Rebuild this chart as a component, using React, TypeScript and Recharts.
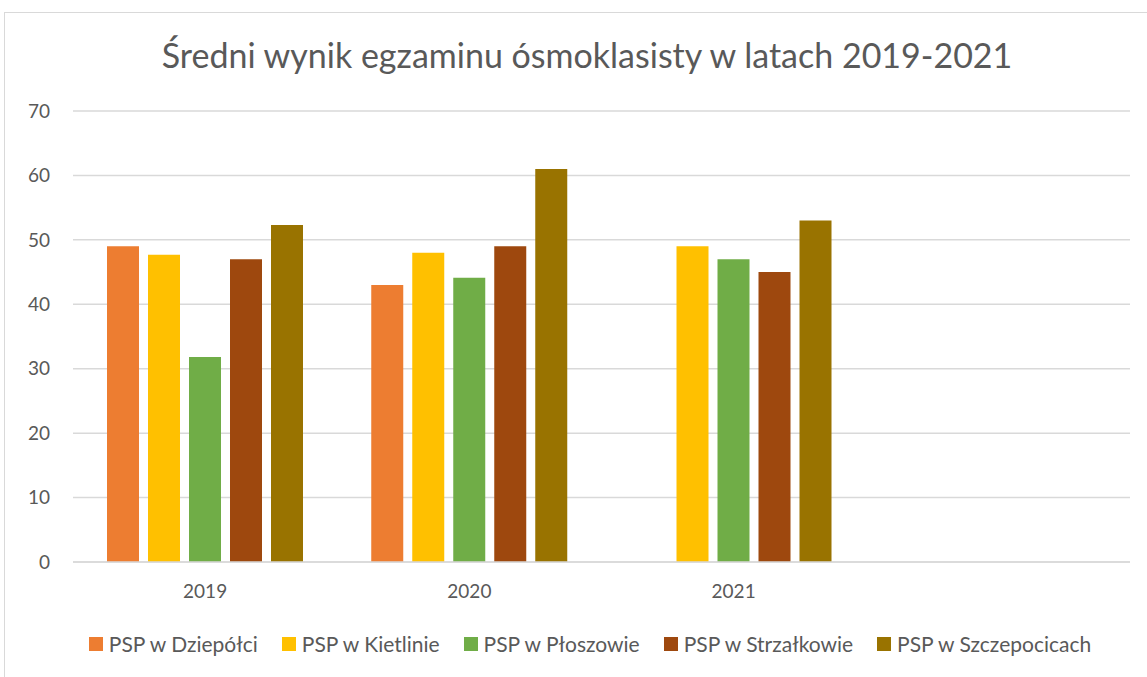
import { BarChart, Bar, XAxis, YAxis, CartesianGrid } from 'recharts';

const years = ['2019', '2020', '2021', ''];
const dziepolci = [49, 43, null, null];
const kietlinie = [47.7, 48, 49, null];
const ploszowie = [31.8, 44.1, 47, null];
const strzalkowie = [47, 49, 45, null];
const szczepocicach = [52.3, 61, 53, null];

const yTicks = [0, 10, 20, 30, 40, 50, 60, 70];

const seriesList = [
  { key: 'd', name: 'PSP w Dziepółci', color: '#ED7D31', values: dziepolci },
  { key: 'k', name: 'PSP w Kietlinie', color: '#FFC000', values: kietlinie },
  { key: 'p', name: 'PSP w Płoszowie', color: '#70AD47', values: ploszowie },
  { key: 's', name: 'PSP w Strzałkowie', color: '#9E480E', values: strzalkowie },
  { key: 'z', name: 'PSP w Szczepocicach', color: '#997300', values: szczepocicach },
];

const data = years.map((year, i) => {
  const row: any = { year };
  seriesList.forEach((s) => {
    row[s.key] = s.values[i];
  });
  return row;
});

const FONT = 'Lato, "Open Sans", sans-serif';
const TEXT = '#595959';

const LegendBox = () => (
  <div
    style={{
      position: 'absolute',
      left: 0,
      top: 631,
      width: 1180,
      display: 'flex',
      justifyContent: 'center',
      gap: 24,
      fontFamily: FONT,
      fontSize: 21,
      color: TEXT,
    }}
  >
    {seriesList.map((s) => (
      <div key={s.key} style={{ display: 'flex', alignItems: 'center' }}>
        <span style={{ width: 14, height: 14, background: s.color, display: 'inline-block', marginRight: 6 }} />
        <span>{s.name}</span>
      </div>
    ))}
  </div>
);

export default function App() {
  return (
    <div style={{ position: 'absolute', left: 0, top: 0, width: 1147, height: 677, overflow: 'hidden', background: '#fff' }}>
      <div style={{ position: 'absolute', left: 4, top: 12, width: 1200, height: 700, border: '1px solid #d9d9d9' }} />
      <div
        style={{
          position: 'absolute',
          left: 0,
          top: 34,
          width: 1174,
          textAlign: 'center',
          fontFamily: FONT,
          fontSize: 34,
          color: TEXT,
        }}
      >
        Średni wynik egzaminu ósmoklasisty w latach 2019-2021
      </div>
      <div style={{ position: 'absolute', left: 0, top: 0 }}>
        <BarChart
          width={1147}
          height={677}
          data={data}
          margin={{ top: 111, right: 17, bottom: 85, left: 0 }}
          barSize={32}
          barGap={9}
        >
          <CartesianGrid vertical={false} stroke="#d9d9d9" strokeWidth={1.5} />
          <XAxis
            dataKey="year"
            height={30}
            tickLine={false}
            axisLine={{ stroke: '#d9d9d9', strokeWidth: 1.5 }}
            tick={{ fill: TEXT, fontSize: 19, fontFamily: FONT }}
            tickMargin={17}
          />
          <YAxis
            width={73}
            domain={[0, 70]}
            ticks={yTicks}
            tickLine={false}
            axisLine={false}
            tick={{ fill: TEXT, fontSize: 19, fontFamily: FONT }}
            tickMargin={17}
          />
          {seriesList.map((s) => (
            <Bar key={s.key} dataKey={s.key} name={s.name} fill={s.color} isAnimationActive={false} />
          ))}
        </BarChart>
      </div>
      <LegendBox />
    </div>
  );
}
